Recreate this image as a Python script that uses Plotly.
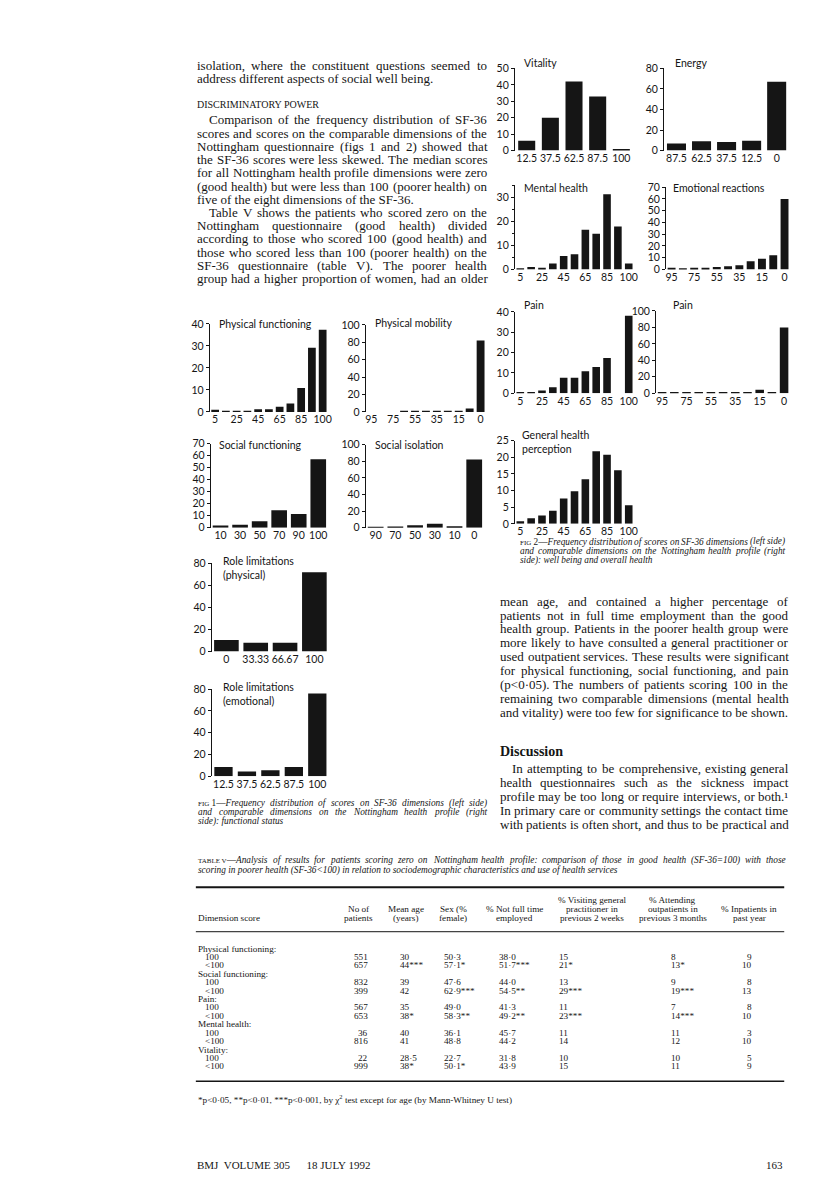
import re
import plotly.graph_objects as go

W, H = 816, 1197
SERIF = "Liberation Serif"
SANS = "Lato"
INK = "#151515"


def fx(x):
    return x / W


def fy(y):
    return 1 - y / H


# ---------------- Fig 1 : functional status ----------------
sf36_bins = ["5", "15", "25", "35", "45", "55", "65", "75", "85", "95", "100"]
sf36_ticks = ["5", "25", "45", "65", "85", "100"]
nhp_bins = ["95", "85", "75", "65", "55", "45", "35", "25", "15", "5", "0"]
nhp_ticks = ["95", "75", "55", "35", "15", "0"]

phys_func = [1.0, 0.6, 0.3, 0.3, 1.2, 1.2, 2.4, 3.8, 10.9, 29.1, 37.3]
phys_mob = [0, 0, 0, 0.5, 0.5, 0.5, 0.5, 0.5, 1.0, 4.0, 82]

soc_func_bins = ["10", "30", "50", "70", "90", "100"]
soc_func = [2.0, 2.5, 5.5, 14.5, 11.5, 57]
soc_iso_bins = ["90", "70", "50", "30", "10", "0"]
soc_iso = [0.5, 1.5, 3.0, 5.0, 2.0, 82]

role_phys_bins = ["0", "33.33", "66.67", "100"]
role_phys = [10.5, 8.0, 8.0, 72]
quarter_bins = ["12.5", "37.5", "62.5", "87.5", "100"]
role_emo = [8.5, 4.5, 5.5, 8.5, 76]

# ---------------- Fig 2 : well being and overall health ----------------
vitality = [6, 20, 42, 33, 1]
energy_bins = ["87.5", "62.5", "37.5", "12.5", "0"]
energy = [7, 9, 8.5, 9.5, 67]
mental = [0.4, 1.0, 0.7, 2.5, 5.6, 6.3, 16.5, 14.8, 31.3, 17.9, 2.5]
emotional = [1.4, 1.0, 1.4, 1.4, 2.0, 2.8, 3.6, 7.0, 9.0, 12.0, 60]
pain_sf = [0.5, 0.5, 1.3, 2.9, 7.6, 7.6, 10.8, 12.9, 17.3, 0, 38.2]
pain_nhp = [1.0, 1.0, 1.0, 0.3, 1.0, 1.0, 1.0, 1.0, 4.0, 1.0, 80]
gen_health = [0.8, 1.7, 2.5, 3.9, 7.6, 9.8, 13.4, 21.8, 20.8, 16.1, 5.6]

# ---------------- Table V ----------------
dimensions = ["Physical functioning:", "Social functioning:", "Pain:", "Mental health:", "Vitality:"]
score_rows = ["100", "&lt;100"]
n_patients = [["551", "657"], ["832", "399"], ["567", "653"], ["36", "816"], ["22", "999"]]
mean_age = [["30", "44***"], ["39", "42"], ["35", "38*"], ["40", "41"], ["28·5", "38*"]]
pct_female = [["50·3", "57·1*"], ["47·6", "62·9***"], ["49·0", "58·3**"], ["36·1", "48·8"], ["22·7", "50·1*"]]
pct_not_ft = [["38·0", "51·7***"], ["44·0", "54·5**"], ["41·3", "49·2**"], ["45·7", "44·2"], ["31·8", "43·9"]]
pct_gp = [["15", "21*"], ["13", "29***"], ["11", "23***"], ["11", "14"], ["10", "15"]]
pct_outp = [["8", "13*"], ["9", "19***"], ["7", "14***"], ["11", "12"], ["10", "11"]]
pct_inpat = [["9", "10"], ["8", "13"], ["8", "10"], ["3", "10"], ["5", "9"]]

# chart placement on the page (pixels): x0, x1, y_top, y_zero
charts = [
    dict(title=["Physical functioning"], x=sf36_bins, y=phys_func, ticks=sf36_ticks, ymax=40, dt=10,
         box=(202, 321, 313, 402), bw=0.72, tpos=(210, 313)),
    dict(title=["Physical mobility"], x=nhp_bins, y=phys_mob, ticks=nhp_ticks, ymax=100, dt=20,
         box=(359, 480, 314, 402), bw=0.72, tpos=(367, 312)),
    dict(title=["Social functioning"], x=soc_func_bins, y=soc_func, ticks=soc_func_bins, ymax=70, dt=10,
         box=(203, 321, 434, 519), bw=0.8, tpos=(210, 435)),
    dict(title=["Social isolation"], x=soc_iso_bins, y=soc_iso, ticks=soc_iso_bins, ymax=100, dt=20,
         box=(359, 478, 435, 519), bw=0.8, tpos=(367, 435)),
    dict(title=["Role limitations", "(physical)"], x=role_phys_bins, y=role_phys, ticks=role_phys_bins,
         ymax=80, dt=20, box=(204, 322, 555, 644), bw=0.84, tpos=(214, 553)),
    dict(title=["Role limitations", "(emotional)"], x=quarter_bins, y=role_emo, ticks=quarter_bins,
         ymax=80, dt=20, box=(204, 322, 682, 770), bw=0.78, tpos=(214, 680)),
    dict(title=["Vitality"], x=quarter_bins, y=vitality, ticks=quarter_bins, ymax=50, dt=10,
         box=(509, 628, 55, 138), bw=0.72, tpos=(517, 50)),
    dict(title=["Energy"], x=energy_bins, y=energy, ticks=energy_bins, ymax=80, dt=20,
         box=(659, 785, 55, 138), bw=0.76, tpos=(669, 50)),
    dict(title=["Mental health"], x=sf36_bins, y=mental, ticks=sf36_ticks, ymax=35, dt=10, minor=5,
         box=(509, 629, 173, 258), bw=0.7, tpos=(517, 176)),
    dict(title=["Emotional reactions"], x=nhp_bins, y=emotional, ticks=nhp_ticks, ymax=70, dt=10,
         box=(661, 786, 175, 258), bw=0.7, tpos=(667, 176)),
    dict(title=["Pain"], x=sf36_bins, y=pain_sf, ticks=sf36_ticks, ymax=40, dt=10,
         box=(509, 629, 301, 383), bw=0.7, tpos=(517, 294)),
    dict(title=["Pain"], x=nhp_bins, y=pain_nhp, ticks=nhp_ticks, ymax=100, dt=20,
         box=(651, 786, 300, 383), bw=0.7, tpos=(667, 294)),
    dict(title=["General health", "perception"], x=sf36_bins, y=gen_health, ticks=sf36_ticks, ymax=25, dt=5,
         box=(509, 629, 431, 515), bw=0.7, tpos=(515, 425)),
]

fig = go.Figure()
notes = []


def note(x, y, text, size, family=SERIF, anchor="left", color=INK):
    notes.append(dict(x=fx(x), y=fy(y), xref="paper", yref="paper", text=text, showarrow=False,
                      xanchor=anchor, yanchor="middle", borderpad=0,
                      font=dict(family=family, size=size, color=color)))


for i, c in enumerate(charts, start=1):
    sfx = "" if i == 1 else str(i)
    x0, x1, yt, yb = c["box"]
    fig.add_trace(go.Bar(x=c["x"], y=c["y"], xaxis="x" + sfx, yaxis="y" + sfx, width=c["bw"],
                         marker=dict(color=INK, line=dict(width=0)), hoverinfo="skip", showlegend=False))
    yax = dict(domain=[fy(yb), fy(yt)], anchor="x" + sfx, range=[0, c["ymax"]],
               tickmode="linear", tick0=0, dtick=c["dt"], ticks="outside", ticklen=3,
               tickwidth=1, tickcolor=INK, showline=True, linecolor=INK, linewidth=1,
               showgrid=False, zeroline=False,
               tickfont=dict(family=SANS, size=10.5, color=INK))
    if c.get("minor"):
        yax["minor"] = dict(dtick=c["minor"], tick0=0, ticks="outside", ticklen=2,
                            tickcolor=INK, showgrid=False)
    fig.update_layout(**{
        "xaxis" + sfx: dict(domain=[fx(x0), fx(x1)], anchor="y" + sfx, type="category",
                            categoryorder="array", categoryarray=c["x"], range=[-0.5, len(c["x"]) - 0.5],
                            showline=False, ticks="", tickmode="array", tickvals=c["ticks"],
                            ticktext=c["ticks"], showgrid=False, zeroline=False,
                            tickfont=dict(family=SANS, size=10.5, color=INK)),
        "yaxis" + sfx: yax,
    })
    tx, ty = c["tpos"]
    for k, t in enumerate(c["title"]):
        note(tx, ty + k * 14, t, 10.5, family=SANS)

# ---------------- text setting helpers ----------------
REG = {" ": 250, "%": 833, "(": 333, ")": 333, "*": 500, ",": 250, "-": 333, ".": 250, "/": 278,
       ":": 278, ";": 278, "<": 564, "=": 564, ">": 564, "·": 250, "¹": 300, "—": 1000,
       "A": 722, "B": 667, "C": 667, "D": 722, "E": 611, "F": 556, "G": 722, "H": 722, "I": 333,
       "J": 389, "K": 722, "L": 611, "M": 889, "N": 722, "O": 722, "P": 556, "Q": 722, "R": 667,
       "S": 556, "T": 611, "U": 722, "V": 722, "W": 944, "X": 722, "Y": 722, "Z": 611,
       "a": 444, "b": 500, "c": 444, "d": 500, "e": 444, "f": 333, "g": 500, "h": 500, "i": 278,
       "j": 278, "k": 500, "l": 278, "m": 778, "n": 500, "o": 500, "p": 500, "q": 500, "r": 333,
       "s": 389, "t": 278, "u": 500, "v": 500, "w": 722, "x": 500, "y": 500, "z": 444}
ITAL = dict(REG)
ITAL.update({"a": 500, "f": 278, "k": 444, "m": 722, "r": 389, "v": 444, "w": 667, "x": 444,
             "y": 444, "z": 389, "=": 675, "<": 675, "A": 611, "F": 611, "N": 667, "S": 500, "T": 556})


def text_w(s, size, italic=False):
    s = re.sub(r"<[^>]+>", "", s).replace("&lt;", "<")
    tab = ITAL if italic else REG
    return sum(tab.get(ch, 500) for ch in s) * size / 1000


def set_line(text, x0, x1, y, size, justify=True, indent=0, italic=False, lead=None, lead_w=0.0):
    words = text.split()
    toks = [(f"<i>{w}</i>" if italic else w, text_w(w, size, italic)) for w in words]
    if lead:
        first, fw = toks[0]
        toks[0] = (lead + first, lead_w + fw)
    x = x0 + indent
    if not justify or len(toks) < 2:
        body = " ".join(t for t, _ in toks)
        note(x, y, body, size)
        return
    gap = (x1 - x - sum(w for _, w in toks)) / (len(toks) - 1)
    gap = max(gap, 0.2 * size)
    for t, w in toks:
        note(x, y, t, size)
        x += w + gap


# ---------------- body text ----------------
left_text = [
    ("isolation, where the constituent questions seemed to", True, 0),
    ("address different aspects of social well being.", False, 0),
    None,
    None,
    ("Comparison of the frequency distribution of SF-36", True, 12),
    ("scores and scores on the comparable dimensions of the", True, 0),
    ("Nottingham questionnaire (figs 1 and 2) showed that", True, 0),
    ("the SF-36 scores were less skewed. The median scores", True, 0),
    ("for all Nottingham health profile dimensions were zero", True, 0),
    ("(good health) but were less than 100 (poorer health) on", True, 0),
    ("five of the eight dimensions of the SF-36.", False, 0),
    ("Table V shows the patients who scored zero on the", True, 12),
    ("Nottingham questionnaire (good health) divided", True, 0),
    ("according to those who scored 100 (good health) and", True, 0),
    ("those who scored less than 100 (poorer health) on the", True, 0),
    ("SF-36 questionnaire (table V). The poorer health", True, 0),
    ("group had a higher proportion of women, had an older", True, 0),
]
ys = [52, 65, 0, 0] + [107 + 13.35 * k for k in range(13)]
for item, yy in zip(left_text, ys):
    if item:
        set_line(item[0], 188, 480, yy, 13, justify=item[1], indent=item[2])
note(188, 91, "DISCRIMINATORY POWER", 10)

right_text = [
    ("mean age, and contained a higher percentage of", True, 0),
    ("patients not in full time employment than the good", True, 0),
    ("health group. Patients in the poorer health group were", True, 0),
    ("more likely to have consulted a general practitioner or", True, 0),
    ("used outpatient services. These results were significant", True, 0),
    ("for physical functioning, social functioning, and pain", True, 0),
    ("(p&lt;0·05). The numbers of patients scoring 100 in the", True, 0),
    ("remaining two comparable dimensions (mental health", True, 0),
    ("and vitality) were too few for significance to be shown.", False, 0),
]
for k, item in enumerate(right_text):
    set_line(item[0], 493, 783, 593 + 14.1 * k, 13, justify=item[1], indent=item[2])
note(493, 745, "<b>Discussion</b>", 14)
disc_text = [
    ("In attempting to be comprehensive, existing general", True, 12),
    ("health questionnaires such as the sickness impact", True, 0),
    ("profile may be too long or require interviews, or both.¹", True, 0),
    ("In primary care or community settings the contact time", True, 0),
    ("with patients is often short, and thus to be practical and", True, 0),
]
for k, item in enumerate(disc_text):
    set_line(item[0], 493, 783, 762 + 14.1 * k, 13, justify=item[1], indent=item[2])

# ---------------- captions ----------------
CS = 9.3
fig_lead = "<span style='font-size:7px'>FIG</span> {}—"
fig_lead_w = text_w("FIG", 7) + text_w(" 1—", CS)
set_line("Frequency distribution of scores on SF-36 dimensions (left side)", 189, 480, 797, CS,
         italic=True, lead=fig_lead.format(1), lead_w=fig_lead_w)
set_line("and comparable dimensions on the Nottingham health profile (right", 189, 480, 806.5, CS, italic=True)
set_line("side): functional status", 189, 480, 816, CS, justify=False, italic=True)

set_line("Frequency distribution of scores on SF-36 dimensions (left side)", 513, 780, 533, CS,
         italic=True, lead=fig_lead.format(2), lead_w=fig_lead_w)
set_line("and comparable dimensions on the Nottingham health profile (right", 513, 780, 542.5, CS, italic=True)
set_line("side): well being and overall health", 513, 780, 552, CS, justify=False, italic=True)

set_line("Analysis of results for patients scoring zero on Nottingham health profile: comparison of those "
         "in good health (SF-36=100) with those", 189, 780, 855, CS, italic=True,
         lead="<span style='font-size:7px'>TABLE V</span>—", lead_w=text_w("TABLE V", 7) + text_w("—", CS))
set_line("scoring in poorer health (SF-36&lt;100) in relation to sociodemographic characteristics and use "
         "of health services", 189, 780, 865, CS, justify=False, italic=True)

# ---------------- Table V ----------------
shapes = [
    dict(type="line", xref="paper", yref="paper", x0=fx(188), x1=fx(780), y0=fy(882), y1=fy(882),
         line=dict(color=INK, width=2)),
    dict(type="line", xref="paper", yref="paper", x0=fx(188), x1=fx(780), y0=fy(927), y1=fy(927),
         line=dict(color=INK, width=1)),
    dict(type="line", xref="paper", yref="paper", x0=fx(188), x1=fx(780), y0=fy(1078), y1=fy(1078),
         line=dict(color=INK, width=1.5)),
]
headers = [
    (352, ["No of", "patients"]),
    (399, ["Mean age", "(years)"]),
    (447, ["Sex (%", "female)"]),
    (509, ["% Not full time", "employed"]),
    (587, ["% Visiting general", "practitioner in", "previous 2 weeks"]),
    (668, ["% Attending", "outpatients in", "previous 3 months"]),
    (745, ["% Inpatients in", "past year"]),
]
TS = 9.2
note(189, 913, "Dimension score", TS)
for hx, lines in headers:
    for k, t in enumerate(reversed(lines)):
        note(hx, 913 - 9 * k, t, TS, anchor="center")

columns = [
    (n_patients, 362, "right"),
    (mean_age, 392, "left"),
    (pct_female, 437, "left"),
    (pct_not_ft, 492, "left"),
    (pct_gp, 552, "left"),
    (pct_outp, 665, "left"),
    (pct_inpat, 749, "right"),
]
row = 0
for g, dim in enumerate(dimensions):
    note(189, 944 + 8.5 * row, dim, TS)
    row += 1
    for s, lab in enumerate(score_rows):
        yy = 944 + 8.5 * row
        note(196, yy, lab, TS)
        for vals, cx, anc in columns:
            note(cx, yy, vals[g][s], TS, anchor=anc)
        row += 1

note(189, 1096, "*p&lt;0·05, **p&lt;0·01, ***p&lt;0·001, by χ<sup>2</sup> test except for age "
     "(by Mann-Whitney U test)", TS)

# ---------------- running foot ----------------
note(188, 1163, "BMJ  VOLUME 305      18 JULY 1992", 11)
note(780, 1163, "163", 11, anchor="right")

fig.update_layout(
    width=W, height=H,
    margin=dict(l=0, r=0, t=0, b=0),
    paper_bgcolor="white", plot_bgcolor="white",
    showlegend=False,
    annotations=notes,
    shapes=shapes,
)

fig.write_html("out.html")
